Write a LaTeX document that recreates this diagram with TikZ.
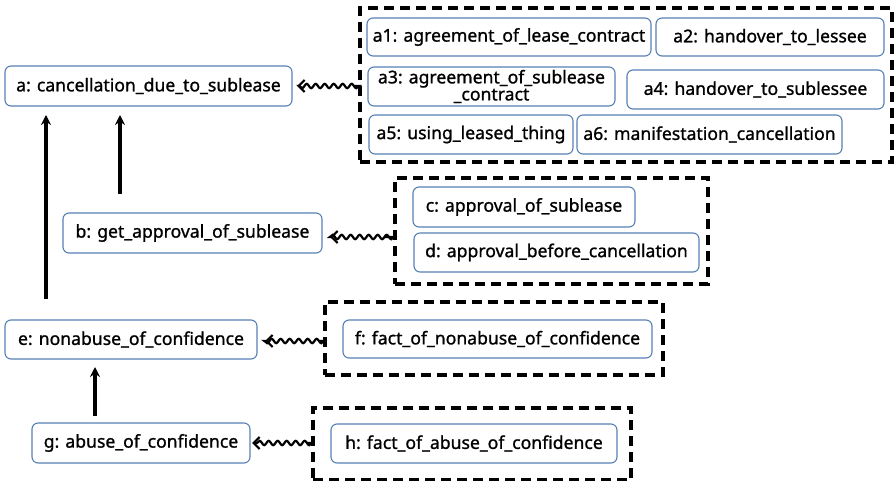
\documentclass[tikz,border=0pt]{standalone}
\usepackage{fontspec}
\setmainfont{Noto Sans}
\newfontfamily\boxfont{Noto Sans}[FakeBold=1.1]
\usetikzlibrary{arrows.meta,decorations.pathmorphing}
\definecolor{boxblue}{RGB}{86,128,180}
\begin{document}
\begin{tikzpicture}[x=1pt, y=-1pt,
    box/.style={draw=boxblue, line width=1.1pt, rounded corners=6pt, inner sep=0pt, outer sep=0pt, align=center, font=\boxfont\fontsize{17.6}{17}\selectfont},
    group/.style={draw, line width=3.2pt, dash pattern=on 10pt off 6pt, inner sep=0pt, outer sep=0pt},
    arrow/.style={line width=3.2pt, -{Stealth[length=10pt, width=10pt]}},
    wavy/.style={line width=2.2pt, -{Straight Barb[length=6pt, width=12pt, line width=2.2pt]}, decorate, decoration={snake, amplitude=2.2pt, segment length=9pt, pre length=1pt, post length=6pt}}]
    \useasboundingbox (0,0) rectangle (894,481);

    \node[box, minimum width=287, minimum height=40](a) at (148.5, 86){a: cancellation\_due\_to\_sublease};
    \node[box, minimum width=259, minimum height=40](b) at (192.5, 233){b: get\_approval\_of\_sublease};
    \node[box, minimum width=252, minimum height=39](e) at (131, 339.5){e: nonabuse\_of\_confidence};
    \node[box, minimum width=218, minimum height=40](g) at (141, 443){g: abuse\_of\_confidence};

    % evidence groups
    \node[group, minimum width=532, minimum height=154](A) at (626, 85){};
    \node[box, minimum width=284, minimum height=38](a1) at (509, 37){a1: agreement\_of\_lease\_contract};
    \node[box, minimum width=228, minimum height=38](a2) at (770, 37){a2: handover\_to\_lessee};
    \node[box, minimum width=247, minimum height=39](a3) at (491.5, 86.5){a3: agreement\_of\_sublease\\\_contract};
    \node[box, minimum width=257, minimum height=39](a4) at (755.5, 89.5){a4: handover\_to\_sublessee};
    \node[box, minimum width=204, minimum height=39](a5) at (471, 134.5){a5: using\_leased\_thing};
    \node[box, minimum width=265, minimum height=39](a6) at (709.5, 134.5){a6: manifestation\_cancellation};

    \node[group, minimum width=313, minimum height=106](B) at (551.5, 231){};
    \node[box, minimum width=222, minimum height=40](c) at (524, 207){c: approval\_of\_sublease};
    \node[box, minimum width=285, minimum height=39](d) at (556.5, 252.5){d: approval\_before\_cancellation};

    \node[group, minimum width=338, minimum height=73](F) at (494, 338.5){};
    \node[box, minimum width=309, minimum height=38](f) at (497.5, 339){f: fact\_of\_nonabuse\_of\_confidence};

    \node[group, minimum width=318, minimum height=72](H) at (472, 444){};
    \node[box, minimum width=286, minimum height=39](h) at (474, 443.5){h: fact\_of\_abuse\_of\_confidence};

    \draw[arrow, shorten <=21pt, shorten >=9pt] ([xshift=41pt]e.north west) -- ([xshift=41pt]e.north west |- a.south);
    \draw[arrow, shorten <=19pt, shorten >=9pt] ([xshift=57pt]b.north west) -- ([xshift=57pt]b.north west |- a.south);
    \draw[arrow, shorten <=7pt, shorten >=8pt] ([xshift=63pt]g.north west) -- ([xshift=63pt]g.north west |- e.south);

    \draw[wavy, shorten <=5pt, shorten >=5pt] (A.west |- a.east) -- (a.east);
    \draw[wavy, shorten <=11pt, shorten >=8pt] (B.west |- 0,237) -- (b.east |- 0,237);
    \draw[wavy, shorten <=5pt, shorten >=8pt] (F.west |- 0,341) -- (e.east |- 0,341);
    \draw[wavy, shorten <=6pt, shorten >=2pt] (H.west |- g.east) -- (g.east);
\end{tikzpicture}
\end{document}
